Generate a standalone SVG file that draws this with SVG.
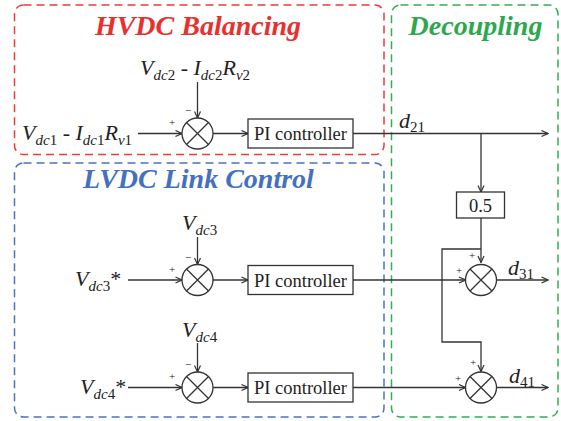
<svg xmlns="http://www.w3.org/2000/svg" width="561" height="421" viewBox="0 0 561 421">
<style>
.t{font-family:'Liberation Serif','DejaVu Serif','Times New Roman',serif;fill:#222}
.title{font-size:28px;font-weight:bold;font-style:italic;text-anchor:middle}
.lbl{font-size:22px}
.i{font-style:italic}
.sub{font-size:15px}
.pi{font-size:18.5px;text-anchor:middle}
.sign{font-size:11px;text-anchor:middle}
.ln{fill:none;stroke:#333;stroke-width:1.3}
.box{fill:#fff;stroke:#333;stroke-width:1.3}
.sum{fill:#fff;stroke:#333;stroke-width:1.3}
.frame{fill:none;stroke-width:1.5;stroke-dasharray:8 5}
</style>
<defs>
<marker id="arr" viewBox="0 0 8 8" refX="7.5" refY="4" markerWidth="8" markerHeight="8" markerUnits="userSpaceOnUse" orient="auto">
<path d="M1,1 L7.5,4 L1,7" fill="none" stroke="#333" stroke-width="1.2"/>
</marker>
<g id="sumsym">
<circle r="15.5" class="sum"/>
<path d="M-11,-11 L11,11 M-11,11 L11,-11" class="ln"/>
</g>
</defs>

<g id="frames">
<rect x="14.5" y="5" width="369.5" height="149.5" rx="9" class="frame" stroke="#ee3b3b"/>
<rect x="14.5" y="163" width="369.5" height="254" rx="9" class="frame" stroke="#4a74c4"/>
<rect x="391.5" y="5" width="166.5" height="412" rx="9" class="frame" stroke="#34ad55"/>
</g>

<g id="titles" font-family="Liberation Serif, DejaVu Serif, serif">
<text class="t title" x="198" y="35" style="fill:#e8302e">HVDC Balancing</text>
<text class="t title" x="475.5" y="35" style="fill:#2ea84f">Decoupling</text>
<text class="t title" x="198.5" y="188" style="fill:#4470c0">LVDC Link Control</text>
</g>

<g id="connectors">
<path d="M138,133.5 H182" class="ln" marker-end="url(#arr)"/>
<path d="M197.5,82 V118" class="ln" marker-end="url(#arr)"/>
<path d="M213,133.5 H248" class="ln" marker-end="url(#arr)"/>
<path d="M353,133.5 H548" class="ln" marker-end="url(#arr)"/>
<path d="M481,133.5 V192" class="ln" marker-end="url(#arr)"/>
<path d="M481,218 V262.5" class="ln" marker-end="url(#arr)"/>
<path d="M481,249 H442 V342 H481 V371.5" class="ln" marker-end="url(#arr)"/>
<path d="M128,280 H182" class="ln" marker-end="url(#arr)"/>
<path d="M197.5,237 V264.5" class="ln" marker-end="url(#arr)"/>
<path d="M213,280 H248" class="ln" marker-end="url(#arr)"/>
<path d="M353,280 H465.5" class="ln" marker-end="url(#arr)"/>
<path d="M496.5,280 H548" class="ln" marker-end="url(#arr)"/>
<path d="M128,387.5 H182" class="ln" marker-end="url(#arr)"/>
<path d="M197.5,343 V372" class="ln" marker-end="url(#arr)"/>
<path d="M213,387.5 H248" class="ln" marker-end="url(#arr)"/>
<path d="M353,387.5 H465.5" class="ln" marker-end="url(#arr)"/>
<path d="M496.5,387.5 H548" class="ln" marker-end="url(#arr)"/>
</g>

<g id="input1">
<text class="t lbl" x="22" y="140"><tspan class="i">V</tspan><tspan class="sub i" dy="5">dc</tspan><tspan class="sub">1</tspan><tspan dy="-5"> - </tspan><tspan class="i">I</tspan><tspan class="sub i" dy="5">dc</tspan><tspan class="sub">1</tspan><tspan class="i" dy="-5">R</tspan><tspan class="sub i" dy="5">v</tspan><tspan class="sub">1</tspan></text>
</g>
<g id="input2">
<text class="t lbl" x="140" y="75"><tspan class="i">V</tspan><tspan class="sub i" dy="5">dc</tspan><tspan class="sub">2</tspan><tspan dy="-5"> - </tspan><tspan class="i">I</tspan><tspan class="sub i" dy="5">dc</tspan><tspan class="sub">2</tspan><tspan class="i" dy="-5">R</tspan><tspan class="sub i" dy="5">v</tspan><tspan class="sub">2</tspan></text>
</g>
<g id="sum1">
<use href="#sumsym" x="197.5" y="133.5"/>
<text class="t sign" x="172" y="126">+</text>
<text class="t sign" x="188" y="114">−</text>
</g>
<g id="pi1">
<rect x="248" y="119" width="105" height="29" class="box"/>
<text class="t pi" x="300.5" y="140">PI controller</text>
</g>
<g id="d21">
<text class="t lbl" x="399" y="128"><tspan class="i">d</tspan><tspan class="sub" dy="4">21</tspan></text>
</g>
<g id="gain">
<rect x="456.5" y="192" width="48" height="26" class="box"/>
<text class="t pi" x="480.5" y="212">0.5</text>
</g>

<g id="input3">
<text class="t lbl" x="75" y="286"><tspan class="i">V</tspan><tspan class="sub i" dy="5">dc</tspan><tspan class="sub">3</tspan><tspan dy="-5">*</tspan></text>
</g>
<g id="fb3">
<text class="t lbl" x="182" y="230"><tspan class="i">V</tspan><tspan class="sub i" dy="5">dc</tspan><tspan class="sub">3</tspan></text>
</g>
<g id="sum2">
<use href="#sumsym" x="197.5" y="280"/>
<text class="t sign" x="172" y="272.5">+</text>
<text class="t sign" x="188" y="260.5">−</text>
</g>
<g id="pi2">
<rect x="248" y="265.5" width="105" height="29" class="box"/>
<text class="t pi" x="300.5" y="286.5">PI controller</text>
</g>
<g id="sum3">
<use href="#sumsym" x="481" y="280"/>
<text class="t sign" x="472" y="259">+</text>
<text class="t sign" x="459" y="274">+</text>
</g>
<g id="d31">
<text class="t lbl" x="508" y="275"><tspan class="i">d</tspan><tspan class="sub" dy="4">31</tspan></text>
</g>

<g id="input4">
<text class="t lbl" x="80" y="393.5"><tspan class="i">V</tspan><tspan class="sub i" dy="5">dc</tspan><tspan class="sub">4</tspan><tspan dy="-5">*</tspan></text>
</g>
<g id="fb4">
<text class="t lbl" x="182" y="337"><tspan class="i">V</tspan><tspan class="sub i" dy="5">dc</tspan><tspan class="sub">4</tspan></text>
</g>
<g id="sum4">
<use href="#sumsym" x="197.5" y="387.5"/>
<text class="t sign" x="172" y="380">+</text>
<text class="t sign" x="188" y="368">−</text>
</g>
<g id="pi3">
<rect x="248" y="373" width="105" height="29" class="box"/>
<text class="t pi" x="300.5" y="394">PI controller</text>
</g>
<g id="sum5">
<use href="#sumsym" x="481" y="387.5"/>
<text class="t sign" x="473" y="366">+</text>
<text class="t sign" x="458" y="382">+</text>
</g>
<g id="d41">
<text class="t lbl" x="509" y="383"><tspan class="i">d</tspan><tspan class="sub" dy="4">41</tspan></text>
</g>
</svg>
